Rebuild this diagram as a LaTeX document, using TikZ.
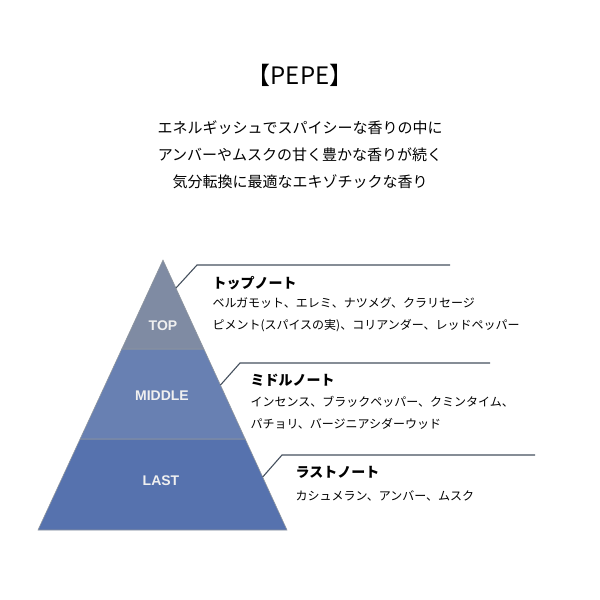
\documentclass[tikz,border=0pt]{standalone}
\usepackage{fontspec}
\setmainfont{Noto Sans CJK JP}
\newfontfamily\labelfont{Liberation Sans}
\definecolor{topcol}{HTML}{7F8BA3}
\definecolor{midcol}{HTML}{6880B2}
\definecolor{lastcol}{HTML}{5672AE}
\definecolor{leadcol}{HTML}{45505E}
\begin{document}
\begin{tikzpicture}[x=1pt,y=-1pt,
  band/.style={draw=leadcol!60,line width=0.6pt},
  tier/.style={font=\labelfont\bfseries\fontsize{14}{14}\selectfont,text=white!88!gray},
  head/.style={anchor=west,font=\bfseries\fontsize{14}{14}\selectfont},
  item/.style={anchor=west,font=\fontsize{12}{12}\selectfont},
  lead/.style={draw=leadcol,line width=1.1pt}]
\useasboundingbox (0,0) rectangle (600,600);
% title and description
\node (title) at (300,75) {\fontsize{24}{24}\selectfont 【PEPE】};
\node (d1) at (300,128) {\fontsize{15}{15}\selectfont エネルギッシュでスパイシーな香りの中に};
\node (d2) at (300,155) {\fontsize{15}{15}\selectfont アンバーやムスクの甘く豊かな香りが続く};
\node (d3) at (300,182) {\fontsize{15}{15}\selectfont 気分転換に最適なエキゾチックな香り};
% pyramid
\filldraw[band,fill=lastcol] (38,530) -- (287,530) -- (245.2,439) -- (80.1,439) -- cycle;
\filldraw[band,fill=midcol] (80.1,439) -- (245.2,439) -- (203.9,349) -- (121.8,349) -- cycle;
\filldraw[band,fill=topcol] (121.8,349) -- (203.9,349) -- (163,260) -- cycle;
\node[tier] (top) at (163,326) {TOP};
\node[tier] (middle) at (162,396) {MIDDLE};
\node[tier] (last) at (161,481) {LAST};
% leaders
\coordinate (t0) at (176,288); \coordinate (t1) at (197,265); \coordinate (t2) at (450,265);
\coordinate (m0) at (220.5,385); \coordinate (m1) at (240,363); \coordinate (m2) at (490,363);
\coordinate (l0) at (262.7,477); \coordinate (l1) at (282,455); \coordinate (l2) at (535,455);
\draw[lead] (t0) -- (t1) -- (t2);
\draw[lead] (m0) -- (m1) -- (m2);
\draw[lead] (l0) -- (l1) -- (l2);
% notes
\node[head] (toph) at (209,283) {トップノート};
\node[item] (top1) at (209,303) {ベルガモット、エレミ、ナツメグ、クラリセージ};
\node[item] (top2) at (209,326) {ピメント(スパイスの実)、コリアンダー、レッドペッパー};
\node[head] (midh) at (247,380) {ミドルノート};
\node[item] (mid1) at (247,402) {インセンス、ブラックペッパー、クミンタイム、};
\node[item] (mid2) at (247,424) {パチョリ、バージニアシダーウッド};
\node[head] (lasth) at (292,472) {ラストノート};
\node[item] (last1) at (292,496) {カシュメラン、アンバー、ムスク};
\end{tikzpicture}
\end{document}
